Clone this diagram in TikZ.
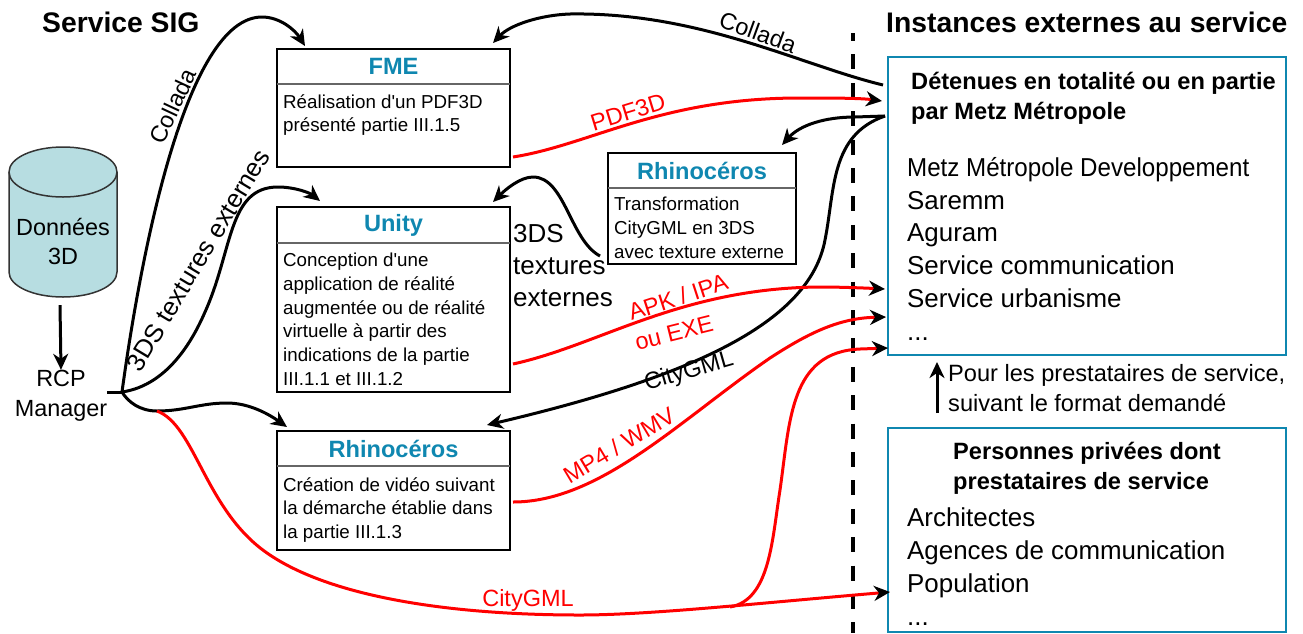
\documentclass[tikz,border=0pt]{standalone}
\usepackage{fontspec}
\usepackage{graphicx}
\setmainfont{Liberation Sans}
\usetikzlibrary{arrows.meta,positioning}
\definecolor{titleblue}{HTML}{0F87B0}
\definecolor{cylfill}{HTML}{B7DDE1}
\newcommand{\myfontbody}{\fontsize{18.75}{23.7}\selectfont}
\newcommand{\myfontlist}{\fontsize{25.9}{32.8}\selectfont}
\newcommand{\myfontdata}{\fontsize{23.4}{29.8}\selectfont}
\newcommand{\myfontlabel}{\fontsize{23.5}{31.5}\selectfont}
\tikzset{
	toolbox/.style={draw,line width=2.4pt,anchor=north west,inner sep=0pt,outer sep=0pt},
	tooltitle/.style={text=titleblue,font=\fontsize{23.6}{26}\selectfont\bfseries,anchor=north,inner sep=0pt,outer sep=0pt,minimum height=35pt},
	tooltext/.style={font=\myfontbody,anchor=north west,align=left,inner sep=0pt},
	sepline/.style={draw=black!60,line width=1.3pt},
	extbox/.style={draw=titleblue,line width=2.4pt,anchor=north west,inner sep=0pt,outer sep=0pt},
	exttitle/.style={font=\fontsize{23.6}{30}\selectfont\bfseries,inner sep=0pt,align=left,anchor=north west},
	heading/.style={font=\fontsize{28.3}{30}\selectfont\bfseries,anchor=base west,inner sep=0pt},
	flow/.style={line width=3pt,-{Stealth[length=16pt,width=15pt,inset=5pt,color=black]}},
	redflow/.style={flow,draw=red},
	flowlabel/.style={font=\myfontlabel,inner sep=0pt,align=center},
	redlabel/.style={flowlabel,text=red}
}
\begin{document}
\begin{tikzpicture}[x=1pt,y=-1pt]
	\useasboundingbox (0,0) rectangle (1303,633);
	%Titles
	\node [heading] (titleSig) at (42,32) {Service SIG};
	\node [heading] (titleExt) at (886,32) {Instances externes au service};
	%Separation
	\coordinate (sepTop) at (853,33);
	\coordinate (sepBottom) at (853,633);
	\draw [line width=3.5pt,dash pattern=on 15pt off 13.4pt,dash phase=7pt] (sepTop) -- (sepBottom);
	%Data and manager
	\draw [draw=black!80,fill=cylfill,line width=1.5pt] (9,172) .. controls (9,158) and (33,147) .. (63,147) .. controls (93,147) and (117,158) .. (117,172) -- (117,272) .. controls (117,286) and (93,297) .. (63,297) .. controls (33,297) and (9,286) .. (9,272) -- cycle;
	\draw [draw=black!80,line width=1.5pt] (9,172) .. controls (9,186) and (33,197) .. (63,197) .. controls (93,197) and (117,186) .. (117,172);
	\node [minimum width=108pt,minimum height=150pt,inner sep=0pt] (donnees) at (63,222) {};
	\node [font=\myfontdata,align=center,inner sep=0pt] (donneesText) at (63,241.5) {Données\\3D\hspace{12pt}};
	\node [font=\myfontdata,align=center,inner sep=0pt] (rcp) at (61,395.5) {RCP\\Manager};
	\draw [flow] ([shift={(-3pt,-8pt)}]donnees.south) -- (rcp.north);
	%FME
	\node [toolbox,minimum width=233pt,minimum height=118pt] (fmeBox) at (277,49) {};
	\node [tooltitle,minimum width=233pt] (fmeTitle) at (fmeBox.north) {FME};
	\draw [sepline] (fmeTitle.south west) -- (fmeTitle.south east);
	\node [tooltext] (fmeText) at (283,94) {Réalisation d\textquotesingle un PDF3D\\présenté partie III.1.5};
	%Unity
	\node [toolbox,minimum width=233pt,minimum height=185pt] (unityBox) at (277,207) {};
	\node [tooltitle,minimum width=233pt] (unityTitle) at ([yshift=-1pt]unityBox.north) {Unity};
	\draw [sepline] (unityTitle.south west) -- (unityTitle.south east);
	\node [tooltext] (unityText) at (283,253) {Conception d\textquotesingle une\\application de réalité\\augmentée ou de réalité\\virtuelle à partir des\\indications de la partie\\III.1.1 et III.1.2};
	%Rhinoceros video
	\node [toolbox,minimum width=233pt,minimum height=119pt] (rhinoBox) at (277,431) {};
	\node [tooltitle,minimum width=233pt] (rhinoTitle) at (rhinoBox.north) {Rhinocéros};
	\draw [sepline] (rhinoTitle.south west) -- (rhinoTitle.south east);
	\node [tooltext] (rhinoText) at (283,477) {Création de vidéo suivant\\la démarche établie dans\\la partie III.1.3};
	%Rhinoceros transformation
	\node [toolbox,minimum width=188pt,minimum height=111pt] (transfoBox) at (608,153) {};
	\node [tooltitle,minimum width=188pt] (transfoTitle) at (transfoBox.north) {Rhinocéros};
	\draw [sepline] (transfoTitle.south west) -- (transfoTitle.south east);
	\node [tooltext] (transfoText) at (614,197) {Transformation\\CityGML en 3DS\\avec texture externe};
	%External boxes
	\node [extbox,minimum width=398pt,minimum height=298pt] (detBox) at (888,57) {};
	\node [exttitle] (detTitle) at (911,72) {Détenues en totalité ou en partie\\par Metz Métropole};
	\node [font=\myfontlist,align=left,anchor=north west,inner sep=0pt] (detList) at (907,157) {\scalebox{0.932}[1]{Metz Métropole Developpement}\\Saremm\\Aguram\\Service communication\\Service urbanisme\\...};
	\node [extbox,minimum width=398pt,minimum height=204pt] (privBox) at (888,428) {};
	\node [exttitle] (privTitle) at (953,442) {Personnes privées dont\\prestataires de service};
	\node [font=\myfontlist,align=left,anchor=north west,inner sep=0pt] (privList) at (907,508) {Architectes\\Agences de communication\\Population\\...};
	\node [font=\fontsize{23.6}{30}\selectfont,align=left,anchor=north west,inner sep=0pt] (prestaText) at (948,364) {Pour les prestataires de service,\\suivant le format demandé};
	\draw [flow] ([yshift=15pt]privBox.north -| 937,0) -- ([yshift=-7pt]detBox.south -| 937,0);
	%Junctions
	\coordinate (rcpJoint) at (122,392);
	\coordinate (redJoint) at (157,411);
	\coordinate (cityStart) at (580,615);
	\coordinate (cityJoint) at (730,607);
	\coordinate (detOut) at ([xshift=-3pt]detBox.west |- 0,116);
	%Black connectors
	\draw [line width=3pt] (rcp.east |- rcpJoint) -- (rcpJoint);
	\draw [flow] (rcpJoint) .. controls (140,260) and (185,17) .. (262,17) .. controls (280,17) and (295,30) .. ([shift={(28pt,3pt)}]fmeBox.north west);
	\draw [flow] (rcpJoint) .. controls (170,385) and (195,335) .. (205,312) .. controls (233,250) and (228,187) .. (278,187) .. controls (295,187) and (310,193) .. ([shift={(43pt,6pt)}]unityBox.north west);
	\draw [line width=3pt] (rcpJoint) .. controls (128,402) and (140,411) .. (redJoint);
	\draw [flow] (redJoint) .. controls (185,411) and (200,403) .. (227,403) .. controls (250,403) and (270,415) .. ([shift={(10pt,4pt)}]rhinoBox.north west);
	\draw [flow] ([xshift=-5pt]detBox.west |- 0,85) .. controls (800,65) and (700,12) .. (570,14) .. controls (540,15) and (510,25) .. ([shift={(-17pt,6pt)}]fmeBox.north east);
	\draw [flow] (detOut) -- (855,117) .. controls (825,117) and (800,125) .. ([shift={(-14pt,8pt)}]transfoBox.north east);
	\draw [flow] (detOut) .. controls (830,135) and (835,190) .. (825,240) .. controls (810,320) and (700,375) .. ([shift={(-23pt,6pt)}]rhinoBox.north east);
	\draw [flow] ([shift={(-8pt,8pt)}]transfoBox.south west) .. controls (570,240) and (565,177) .. (533,177) .. controls (520,177) and (505,190) .. ([shift={(-17pt,5pt)}]unityBox.north east);
	%Red connectors
	\draw [redflow] ([shift={(3pt,10pt)}]fmeBox.south east) .. controls (590,145) and (660,98) .. (800,98) .. controls (830,98) and (860,98) .. ([xshift=-6pt]detBox.west |- 0,101);
	\draw [redflow] ([shift={(3pt,28pt)}]unityBox.south east) .. controls (600,345) and (680,288) .. (820,287) .. controls (840,287) and (865,288) .. ([xshift=-3pt]detBox.west |- 0,289);
	\draw [redflow] ([shift={(3pt,48pt)}]rhinoBox.south east) .. controls (600,502) and (680,420) .. (770,358) .. controls (810,332) and (840,318) .. ([xshift=-2pt]detBox.west |- 0,317);
	\draw [draw=red,line width=3pt] (redJoint) .. controls (195,425) and (205,510) .. (267,553) .. controls (330,597) and (450,615) .. (cityStart);
	\draw [redflow] (cityStart) .. controls (650,615) and (760,603) .. ([xshift=2pt]privBox.west |- 0,592);
	\draw [redflow] (cityJoint) .. controls (770,600) and (772,540) .. (780,490) .. controls (790,420) and (790,352) .. (860,349) -- (detBox.west |- 0,348);
	%Labels on the connectors
	\node [flowlabel,rotate=65] (colladaLeft) at (173,106) {Collada};
	\node [flowlabel,rotate=59,font=\fontsize{25.6}{28}\selectfont] (texturesLeft) at (198,260) {3DS textures externes};
	\node [flowlabel,rotate=-20] (colladaTop) at (758,32) {Collada};
	\node [flowlabel,anchor=north west,align=left,font=\fontsize{26}{32}\selectfont] (texturesRight) at (513,224) {3DS\\textures\\externes};
	\node [redlabel,rotate=17] (labelPdf) at (628,112) {PDF3D};
	\node [redlabel,rotate=18] (labelApk) at (678,297) {APK / IPA};
	\node [redlabel,rotate=14] (labelExe) at (674,333) {ou EXE};
	\node [flowlabel,rotate=16] (labelCityBlack) at (689,372) {CityGML};
	\node [redlabel,rotate=31] (labelMp) at (619,445) {MP4 / WMV};
	\node [redlabel] (labelCityRed) at (528,600) {CityGML};
\end{tikzpicture}
\end{document}
